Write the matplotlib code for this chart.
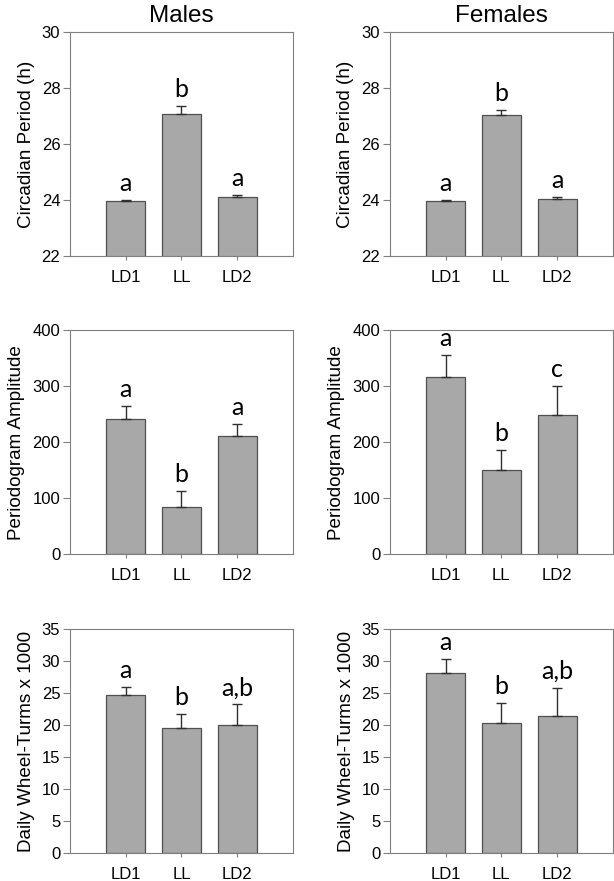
import numpy as np
import matplotlib.pyplot as plt

groups = ["LD1", "LL", "LD2"]

# circadian period (h)
period_m = [23.98, 27.07, 24.12]
period_m_err = [0.02, 0.28, 0.07]
period_f = [23.98, 27.02, 24.03]
period_f_err = [0.02, 0.18, 0.06]

# periodogram amplitude
amp_m = [241, 84, 211]
amp_m_err = [23, 29, 21]
amp_f = [316, 150, 248]
amp_f_err = [40, 37, 52]

# daily wheel turns x 1000
wheel_m = [24.8, 19.6, 20.05]
wheel_m_err = [1.2, 2.1, 3.25]
wheel_f = [28.2, 20.4, 21.5]
wheel_f_err = [2.1, 3.1, 4.4]

letters_period_m = ["a", "b", "a"]
letters_period_f = ["a", "b", "a"]
letters_amp_m = ["a", "b", "a"]
letters_amp_f = ["a", "b", "c"]
letters_wheel_m = ["a", "b", "a,b"]
letters_wheel_f = ["a", "b", "a,b"]

plt.rcParams["font.family"] = ["Liberation Sans", "DejaVu Sans"]

fig = plt.figure(figsize=(6.14, 8.81), dpi=100)

lefts = [0.114, 0.635]
bottoms = [0.7094, 0.3708, 0.0314]
w, h = 0.363, 0.2543

rows = [
    (period_m, period_m_err, letters_period_m, period_f, period_f_err, letters_period_f,
     (22, 30), np.arange(22, 31, 2), "Circadian Period (h)"),
    (amp_m, amp_m_err, letters_amp_m, amp_f, amp_f_err, letters_amp_f,
     (0, 400), np.arange(0, 401, 100), "Periodogram Amplitude"),
    (wheel_m, wheel_m_err, letters_wheel_m, wheel_f, wheel_f_err, letters_wheel_f,
     (0, 35), np.arange(0, 36, 5), "Daily Wheel-Turms x 1000"),
]

x = np.arange(1, 4)
spine_col = "#7f7f7f"

for r, row in enumerate(rows):
    vm, em, lm, vf, ef, lf, ylim, yt, ylab = row
    for c, (vals, errs, lets) in enumerate([(vm, em, lm), (vf, ef, lf)]):
        ax = fig.add_axes([lefts[c], bottoms[r], w, h])
        ax.bar(x, vals, width=0.7, color="#a8a8a8", edgecolor="#505050", linewidth=0.9, zorder=2)
        ax.errorbar(x, vals, yerr=[np.zeros(3), errs], fmt="none", ecolor="#303030",
                    elinewidth=1, capsize=3.5, capthick=1, zorder=3)
        for xi, v, e, t in zip(x, vals, errs, lets):
            ax.annotate(t, (xi, v + e), xytext=(0, 6.5), textcoords="offset points",
                        ha="center", va="baseline", fontsize=18, family=["Lato", "DejaVu Sans"])
        ax.set_xlim(0, 4)
        ax.set_ylim(*ylim)
        ax.set_yticks(yt)
        ax.set_xticks(x)
        ax.set_xticklabels(groups)
        ax.tick_params(axis="y", direction="out", length=5, width=0.8, color=spine_col,
                       labelsize=12, pad=2)
        ax.tick_params(axis="x", direction="out", length=3, width=0.8, color=spine_col,
                       labelsize=12, pad=7)
        for s in ax.spines.values():
            s.set_color(spine_col)
            s.set_linewidth(0.8)
        ax.set_ylabel(ylab, fontsize=13.6, labelpad=5)
        if r == 0:
            ax.set_title(["Males", "Females"][c], fontsize=17.5, pad=7)

plt.savefig("out.png", dpi=100)
